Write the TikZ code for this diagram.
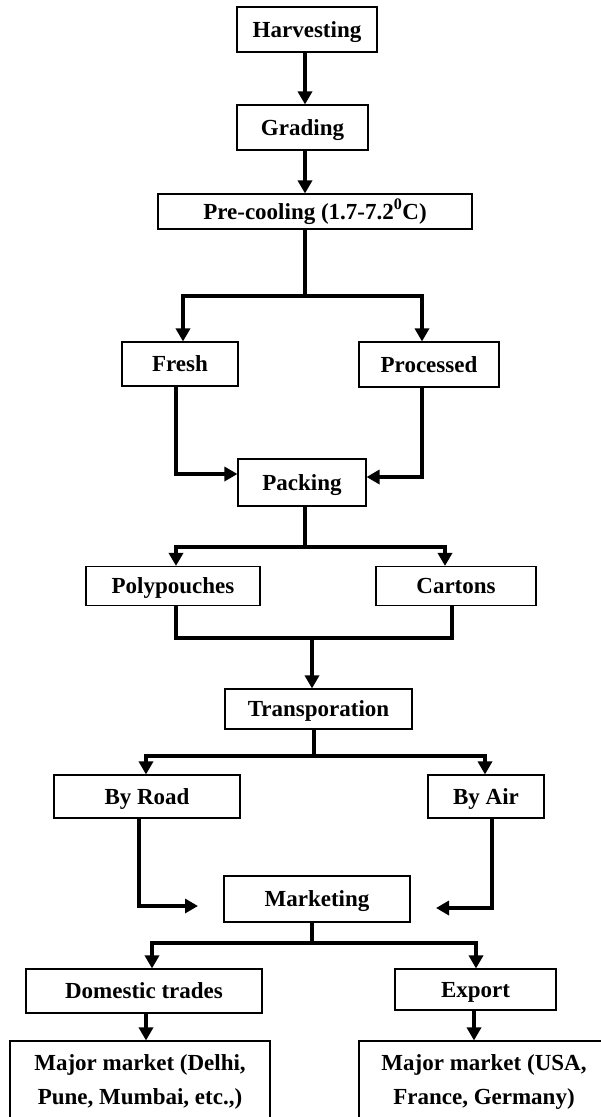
\documentclass[tikz,border=0pt]{standalone}
\usepackage{fontspec}
\setmainfont{Liberation Serif}
\usetikzlibrary{arrows.meta}
\begin{document}
\begin{tikzpicture}[x=1pt,y=-1pt,
  stage/.style={draw, line width=1.1pt, inner sep=0pt, align=center,
    font=\fontsize{23}{34}\selectfont\bfseries},
  line1/.style={stage, text height=15pt, text depth=0pt},
  bar/.style={line width=3.6pt, line join=miter},
  link/.style={bar, -{Triangle[length=13pt,width=14pt]}}]
\clip (0,0) rectangle (601,1117);

% stages
\node[line1, minimum width=140pt, minimum height=45pt] (harv)  at (307,29.5)   {Harvesting};
\node[line1, minimum width=131pt, minimum height=45pt] (grad)  at (302.5,127.5) {Grading};
\node[line1, minimum width=314pt, minimum height=35pt] (pre)   at (315,211.5)  {Pre-cooling (1.7-7.2\textsuperscript{0}C)};
\node[line1, minimum width=116pt, minimum height=44pt] (fresh) at (180,364)    {Fresh};
\node[line1, minimum width=140pt, minimum height=45pt] (proc)  at (429,364.5)  {Processed};
\node[line1, minimum width=128pt, minimum height=47pt] (pack)  at (302,482.5)  {Packing};
\node[line1, minimum width=174pt, minimum height=39pt] (poly)  at (173,586)    {Polypouches};
\node[line1, minimum width=160pt, minimum height=39pt] (cart)  at (456,586)    {Cartons};
\node[line1, minimum width=187pt, minimum height=40pt] (trans) at (318.5,709)  {Transporation};
\node[line1, minimum width=186pt, minimum height=43pt] (road)  at (147,796.5)  {By Road};
\node[line1, minimum width=116pt, minimum height=43pt] (air)   at (486,796.5)  {By Air};
\node[line1, minimum width=186pt, minimum height=46pt] (mkt)   at (317,899)    {Marketing};
\node[line1, minimum width=236pt, minimum height=44pt] (dom)   at (144,991)    {Domestic trades};
\node[line1, minimum width=161pt, minimum height=41pt] (exp)   at (475.5,989.5) {Export};
\node[stage, minimum width=260pt, minimum height=82pt] (majL)  at (140,1082)   {Major market (Delhi,\\Pune, Mumbai, etc.,)};
\node[stage, minimum width=250pt, minimum height=82pt] (majR)  at (484,1082)   {Major market (USA,\\France, Germany)};

% harvesting -> grading -> pre-cooling
\coordinate (s1) at (305,0);
\draw[link] (harv.south -| s1) -- (grad.north -| s1);
\draw[link] (grad.south -| s1) -- (pre.north -| s1);

% pre-cooling -> fresh / processed
\coordinate (j1) at (305,296);
\coordinate (fx) at (183,0);
\coordinate (px) at (422,0);
\draw[bar] (pre.south -| j1) -- (j1);
\draw[link] (j1) -| (fresh.north -| fx);
\draw[link] (j1) -| (proc.north -| px);

% fresh / processed -> packing
\coordinate (fd) at (176,474);
\coordinate (pd) at (422,477);
\draw[link] (fresh.south -| fd) |- (pack.west |- fd);
\draw[link] (proc.south -| pd) |- (pack.east |- pd);

% packing -> polypouches / cartons
\coordinate (j2) at (305,547);
\coordinate (yx) at (176,0);
\coordinate (cx) at (445,0);
\draw[bar] (pack.south -| j2) -- (j2);
\draw[link] (j2) -| (poly.north -| yx);
\draw[link] (j2) -| (cart.north -| cx);

% polypouches / cartons -> transportation
\coordinate (m3) at (312,638);
\coordinate (cd) at (452,0);
\draw[bar] (poly.south -| yx) |- (m3) -| (cart.south -| cd);
\draw[link] (m3) -- (trans.north -| m3);

% transportation -> by road / by air
\coordinate (j4) at (314,756);
\coordinate (rx) at (146,0);
\coordinate (ax) at (485,0);
\draw[bar] (trans.south -| j4) -- (j4);
\draw[link] (j4) -| (road.north -| rx);
\draw[link] (j4) -| (air.north -| ax);

% by road / by air -> marketing
\coordinate (rd) at (139,906);
\coordinate (roadEnd) at (198,906);
\coordinate (ad) at (492,908);
\coordinate (airEnd) at (436,908);
\draw[link] (road.south -| rd) |- (roadEnd);
\draw[link] (air.south -| ad) |- (airEnd);

% marketing -> domestic / export
\coordinate (j5) at (312,943);
\coordinate (dx) at (152,0);
\coordinate (ex) at (476,0);
\draw[bar] (mkt.south -| j5) -- (j5);
\draw[link] (j5) -| (dom.north -| dx);
\draw[link] (j5) -| (exp.north -| ex);

% domestic / export -> major markets
\coordinate (dd) at (146,0);
\coordinate (ed) at (474,0);
\draw[link] (dom.south -| dd) -- (majL.north -| dd);
\draw[link] (exp.south -| ed) -- (majR.north -| ed);
\end{tikzpicture}
\end{document}
